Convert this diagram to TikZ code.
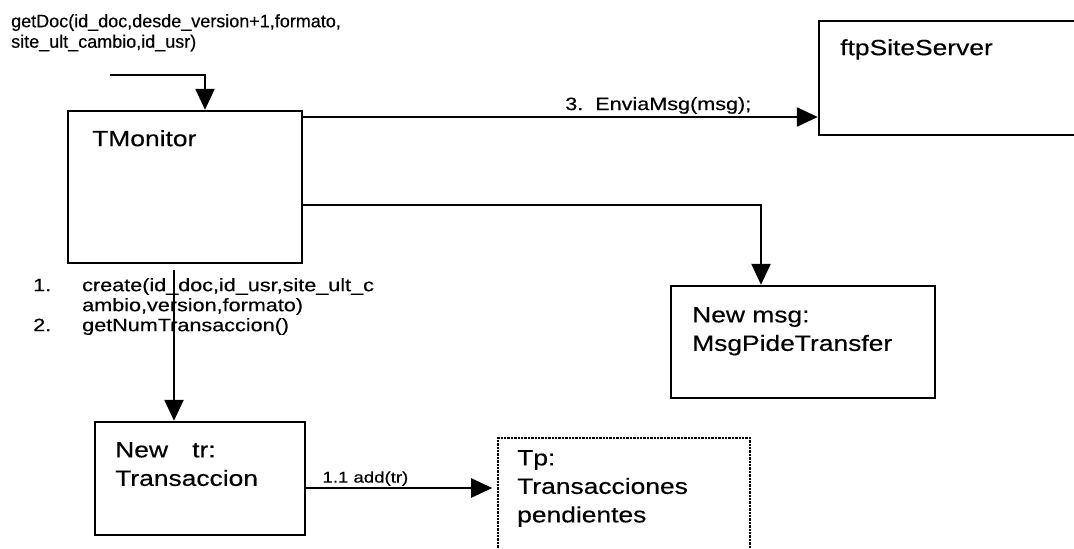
\documentclass[tikz,border=0pt]{standalone}
\usepackage{fontspec}
\setmainfont{Liberation Sans}[FakeStretch=1.2,FakeBold=0.4]
\newfontfamily\plainfont{Liberation Sans}[FakeBold=0.4]
\usetikzlibrary{arrows.meta,positioning}

\tikzset{
  objbox/.style={draw, line width=2.4pt, rectangle, inner sep=0pt},
  objtext/.style={anchor=north west, inner sep=0pt, align=left, font=\fontsize{22}{28.5}\selectfont},
  msgtext/.style={font=\fontsize{18}{20}\selectfont},
  msgarrow/.style={line width=2.4pt, -{Triangle[length=21pt,width=19pt]}},
}

\begin{document}
\begin{tikzpicture}[x=1pt,y=-1pt]
\useasboundingbox (0,0) rectangle (1074,549);

% objects
\node[objbox, minimum width=234pt, minimum height=152pt] (monitor) at (185,187) {};
\node[objbox, minimum width=262pt, minimum height=114pt] (ftp) at (950,78) {};
\node[objbox, minimum width=264pt, minimum height=112pt] (newmsg) at (803,342) {};
\node[objbox, minimum width=210pt, minimum height=113pt] (newtr) at (200,478.5) {};
\node[objbox, densely dotted, line width=1.6pt, minimum width=252pt, minimum height=130pt] (pend) at (624,503) {};

\node[objtext] (monitorname) at (92,130) {TMonitor};
\node[objtext] (ftpname) at (840,39) {ftpSiteServer};
\node[objtext] (newmsgname) at (692,307) {New msg:\\MsgPideTransfer};
\node[objtext] (newtrname) at (115,442) {New\hspace{1.1em}tr:\\Transaccion};
\node[objtext] (pendname) at (517,450) {Tp:\\Transacciones\\pendientes};

% messages
\coordinate (getin) at (110,75);
\node[anchor=north west, inner sep=0pt, align=left, font=\plainfont\fontsize{18}{20.5}\selectfont] (getdoc) at (11,14)
  {getDoc(id\_doc,desde\_version+1,formato,\\site\_ult\_cambio,id\_usr)};
\draw[msgarrow] (getin) -| ([xshift=20pt]monitor.north);

\draw[msgarrow] ([yshift=70pt]monitor.east) -- ([yshift=70pt]monitor.east -| ftp.west)
  node[msgtext, pos=0.69, above, inner sep=2pt] (enviamsg) {3.\ \ EnviaMsg(msg);};
\draw[msgarrow] ([yshift=-18pt]monitor.east) -| ([xshift=-42pt]newmsg.north);

\draw[msgarrow] ([xshift=-11pt,yshift=-6pt]monitor.south) -- ([xshift=-11pt]monitor.south |- newtr.north);
\node[msgtext, anchor=north west, inner sep=0pt] (calls) at (33,277)
  {\begin{tabular}{@{}p{49pt}@{}l@{}}
   1.&create(id\_doc,id\_usr,site\_ult\_c\\
     &ambio,version,formato)\\
   2.&getNumTransaccion()
   \end{tabular}};

\draw[msgarrow, shorten >=5pt] ([yshift=-9.5pt]newtr.east) -- ([yshift=-9.5pt]newtr.east -| pend.west)
  node[pos=0.31, above, inner sep=1pt, font=\fontsize{15.5}{18}\selectfont] (addtr) {1.1 add(tr)};
\end{tikzpicture}
\end{document}
